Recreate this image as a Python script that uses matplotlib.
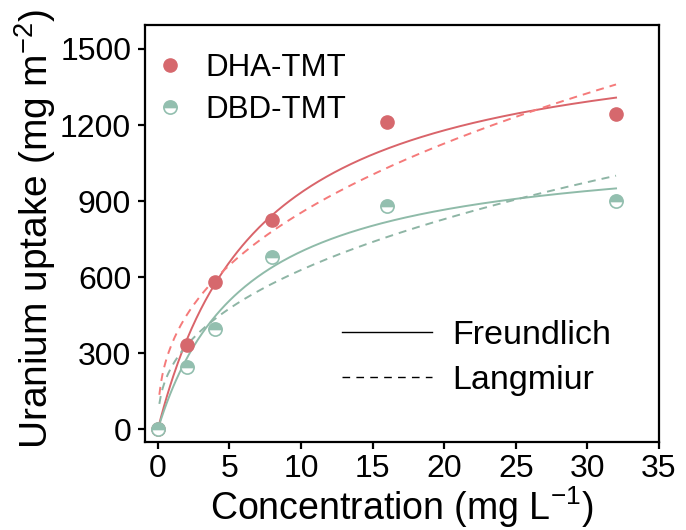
import numpy as np
import matplotlib
matplotlib.use("Agg")
import matplotlib.pyplot as plt
from matplotlib.lines import Line2D

plt.rcParams['font.family'] = ['Liberation Sans', 'DejaVu Sans']
plt.rcParams['mathtext.fontset'] = 'custom'
plt.rcParams['mathtext.rm'] = 'Liberation Sans'
plt.rcParams['mathtext.default'] = 'regular'

# Data
conc = [0, 2, 4, 8, 16, 32]
dha_tmt = [0, 332, 580, 826, 1212, 1244]
dbd_tmt = [0, 245, 394, 679, 880, 900]

# Fit parameters
# solid lines (saturating), labelled "Freundlich" in the legend
dha_solid_qm, dha_solid_k = 1600, 0.14
dbd_solid_qm, dbd_solid_k = 1133, 0.162
# dashed lines (power law), labelled "Langmiur" in the legend
dha_dash_kf, dha_dash_n = 340, 0.4
dbd_dash_kf, dbd_dash_n = 250, 0.4

red_pt = '#D6686D'
red_solid = '#D9646A'
red_dash = '#F57A7A'
green_pt = '#93BFAF'
green_solid = '#8FBBA9'
green_dash = '#8EB5A5'

fig = plt.figure(figsize=(6.86, 5.30), dpi=100)
ax = fig.add_axes([0.2114, 0.166, 0.7492, 0.787])

c_solid = np.linspace(0, 32, 300)
c_dash = np.linspace(0.1, 32, 300)

ax.plot(c_solid, dha_solid_qm * dha_solid_k * c_solid / (1 + dha_solid_k * c_solid),
        color=red_solid, lw=1.4)
ax.plot(c_dash, dha_dash_kf * c_dash ** dha_dash_n, color=red_dash, lw=1.4,
        dashes=(4.1, 3.1))
ax.plot(c_solid, dbd_solid_qm * dbd_solid_k * c_solid / (1 + dbd_solid_k * c_solid),
        color=green_solid, lw=1.4)
ax.plot(c_dash, dbd_dash_kf * c_dash ** dbd_dash_n, color=green_dash, lw=1.4,
        dashes=(4.1, 3.1))

h1, = ax.plot(conc, dha_tmt, 'o', ms=9.5, color=red_pt, mec=red_pt, ls='none',
              label='DHA-TMT', zorder=5)
h2, = ax.plot(conc, dbd_tmt, 'o', ms=9.5, color=green_pt, mec=green_pt, mew=1.2,
              fillstyle='top', markerfacecoloralt='white', ls='none',
              label='DBD-TMT', zorder=5)

ax.set_xlim(-0.9, 35)
ax.set_ylim(-51, 1595)
ax.set_xticks(np.arange(0, 36, 5))
ax.set_yticks(np.arange(0, 1501, 300))

for s in ax.spines.values():
    s.set_linewidth(1.6)
ax.tick_params(axis='both', direction='out', length=5, width=1.6, labelsize=23)
ax.tick_params(axis='y', pad=5)
ax.tick_params(axis='x', pad=3.5)

ax.set_xlabel('Concentration (mg L$^{-1}$)', fontsize=27)
ax.set_ylabel('Uranium uptake (mg m$^{-2}$)', fontsize=28)
ax.xaxis.set_label_coords(0.5, -0.1005)
ax.yaxis.set_label_coords(-0.17, 0.512)

leg1 = ax.legend(handles=[h1, h2], loc='upper left', bbox_to_anchor=(0.0185, 0.932),
                 frameon=False, fontsize=22.5, handlelength=1.0, handletextpad=0.63,
                 labelspacing=0.38, borderaxespad=0.0, borderpad=0.0)
ax.add_artist(leg1)

l1 = Line2D([], [], color='black', lw=1.0)
l2 = Line2D([], [], color='black', lw=1.0, dashes=(5.5, 4.5))
ax.legend(handles=[l1, l2], labels=['Freundlich', 'Langmiur'], loc='upper left',
          bbox_to_anchor=(0.383, 0.2926), frameon=False, fontsize=24.5,
          handlelength=2.65, handletextpad=0.59, labelspacing=0.4,
          borderaxespad=0.0, borderpad=0.0)

fig.savefig('out.png', dpi=100)
